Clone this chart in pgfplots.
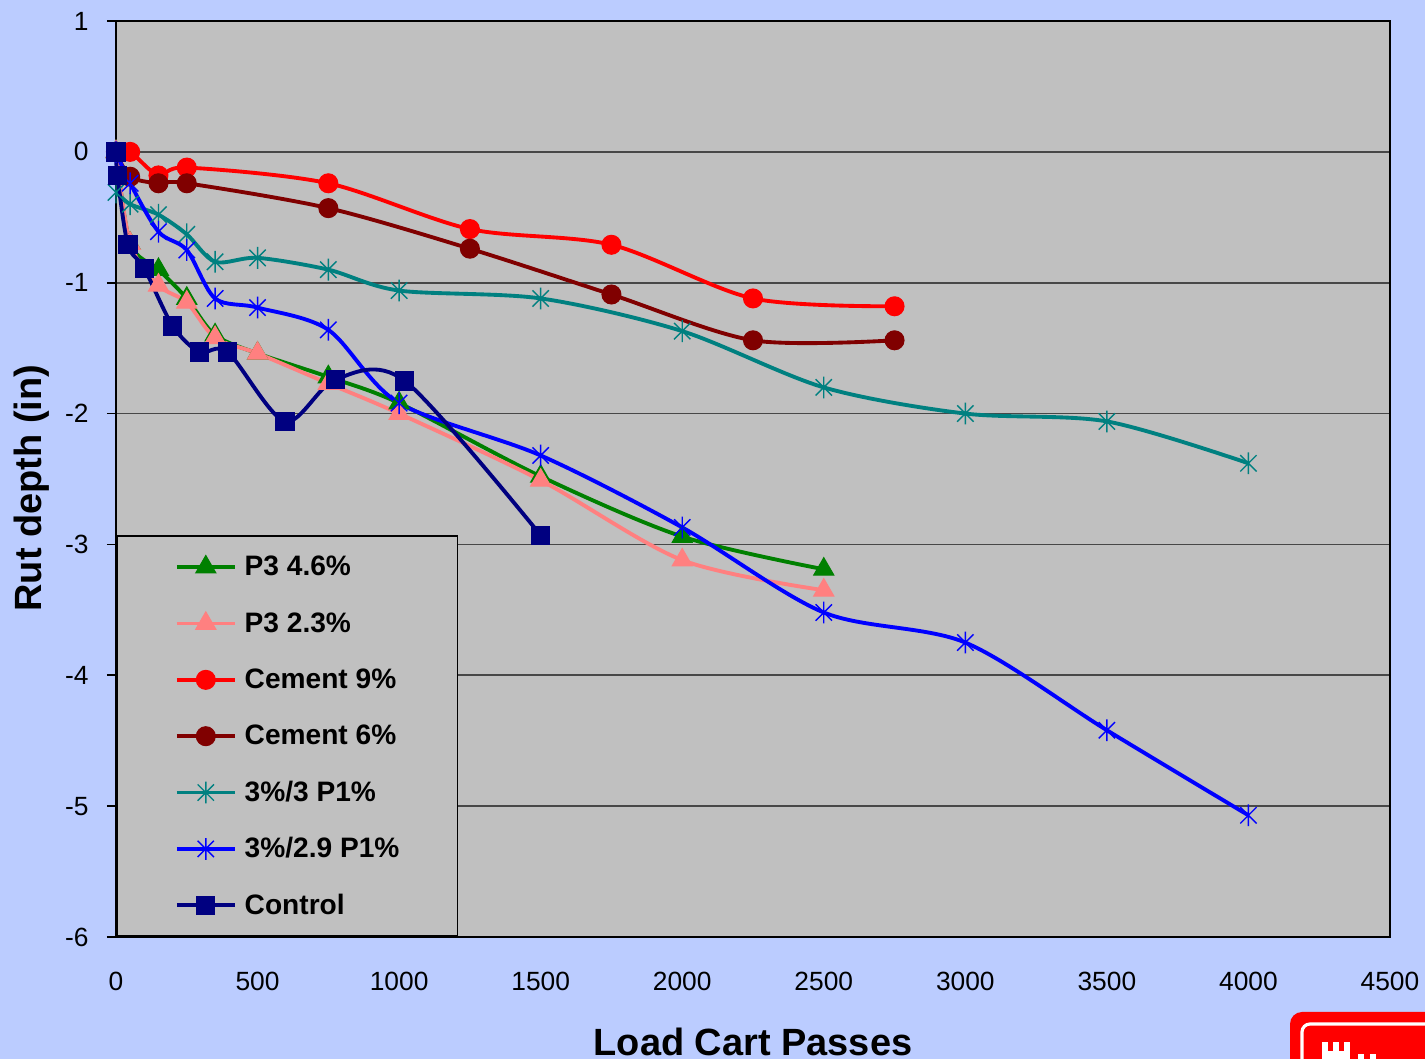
\documentclass[border=0pt]{standalone}
\usepackage{fontspec}
\setmainfont{Liberation Sans}
\usepackage{pgfplots}
\pgfplotsset{compat=1.18}
\definecolor{bgblue}{RGB}{187,204,255}
\definecolor{plotgray}{RGB}{192,192,192}
\definecolor{cgreen}{RGB}{0,128,0}
\definecolor{cpink}{RGB}{255,128,128}
\definecolor{cred}{RGB}{255,0,0}
\definecolor{cdred}{RGB}{128,0,0}
\definecolor{cteal}{RGB}{0,128,128}
\definecolor{cblue}{RGB}{0,0,255}
\definecolor{cnavy}{RGB}{0,0,128}
\pgfdeclareplotmark{xstar}{%
  \pgfpathmoveto{\pgfqpoint{0pt}{\pgfplotmarksize}}%
  \pgfpathlineto{\pgfqpoint{0pt}{-\pgfplotmarksize}}%
  \pgfpathmoveto{\pgfqpoint{-0.75\pgfplotmarksize}{0.75\pgfplotmarksize}}%
  \pgfpathlineto{\pgfqpoint{0.75\pgfplotmarksize}{-0.75\pgfplotmarksize}}%
  \pgfpathmoveto{\pgfqpoint{-0.75\pgfplotmarksize}{-0.75\pgfplotmarksize}}%
  \pgfpathlineto{\pgfqpoint{0.75\pgfplotmarksize}{0.75\pgfplotmarksize}}%
  \pgfusepathqstroke}
\begin{document}
\begin{tikzpicture}
\useasboundingbox (0,0) rectangle (14.25,10.59);
\fill[bgblue] (0,0) rectangle (14.25,10.59);
% logo fragment
\fill[cred, rounded corners=0.12cm] (12.9,0.47) rectangle (15.2,-0.6);
\draw[white, line width=0.9pt, rounded corners=0.08cm] (13.02,0.35) rectangle (15.2,-0.6);
\fill[white] (13.22,0.0) rectangle (13.28,0.17);
\fill[white] (13.33,0.0) rectangle (13.39,0.17);
\fill[white] (13.44,0.0) rectangle (13.50,0.17);
\fill[white] (13.22,0.0) rectangle (13.50,0.08);
\fill[white] (13.58,0.0) rectangle (13.64,0.05);
\fill[white] (13.70,0.0) rectangle (13.76,0.05);
\begin{axis}[
  at={(1.16cm,1.22cm)}, anchor=south west,
  scale only axis, width=12.74cm, height=9.16cm,
  xmin=0, xmax=4500, ymin=-6, ymax=1,
  xtick={0,500,...,4500}, ytick={-6,-5,...,1},
  ytick pos=left,
  scaled x ticks=false,
  /pgf/number format/1000 sep={},
  /pgf/number format/assume math mode=true,
  ticklabel style={font=\fontsize{7.5}{9}\selectfont},
  tick align=outside,
  major tick length=0.09cm,
  xtick style={draw=none},
  ytick style={black, line width=0.5pt},
  yticklabel style={xshift=-0.06cm},
  xticklabel style={yshift=-0.14cm},
  axis background/.style={fill=plotgray},
  axis line style={black, line width=0.6pt},
  ymajorgrids,
  grid style={black!72, line width=0.5pt},
  clip=false,
  xlabel={Load Cart Passes},
  ylabel={Rut depth (in)},
  label style={font=\bfseries\fontsize{10.8}{13}\selectfont},
  xlabel style={at={(axis description cs:0.5,-0.1146)}, anchor=center},
  ylabel style={at={(axis description cs:-0.066,0.49)}, anchor=center},
  legend style={at={(rel axis cs:0,0)}, anchor=south west,
    fill=plotgray, draw=black, line width=0.5pt,
    font=\bfseries\fontsize{8}{9.6}\selectfont,
    inner xsep=0.58cm, inner ysep=0.115cm, row sep=0.177cm,
    nodes={inner xsep=0pt, inner ysep=2pt, text height=6pt, text depth=1pt},
    /tikz/every odd column/.append style={column sep=0.08cm}},
  legend cell align=left,
  legend image code/.code={\draw[mark repeat=2,mark phase=2] plot coordinates {(0cm,0cm)(0.29cm,0cm)(0.58cm,0cm)};},
  every axis plot/.append style={line width=1.1pt, smooth, tension=0.5},
]
\addplot[cgreen, mark=triangle*, mark size=3.3pt, mark options={line width=0.3pt, fill=cgreen}] coordinates {
(0,0) (50,-0.7) (150,-0.90) (250,-1.12) (350,-1.40) (500,-1.54) (750,-1.72) (1000,-1.92) (1500,-2.48) (2000,-2.94) (2500,-3.19)};
\addlegendentry{P3 4.6\%}
\addplot[cpink, mark=triangle*, mark size=3.3pt, mark options={line width=0.3pt, fill=cpink}] coordinates {
(0,0) (50,-0.7) (150,-1.02) (250,-1.15) (350,-1.42) (500,-1.54) (750,-1.77) (1000,-2.00) (1500,-2.51) (2000,-3.12) (2500,-3.35)};
\addlegendentry{P3 2.3\%}
\addplot[cred, mark=*, mark size=2.7pt, mark options={line width=0.3pt, fill=cred}] coordinates {
(0,0) (50,0) (150,-0.18) (250,-0.12) (750,-0.24) (1250,-0.59) (1750,-0.71) (2250,-1.12) (2750,-1.18)};
\addlegendentry{Cement 9\%}
\addplot[cdred, mark=*, mark size=2.7pt, mark options={line width=0.3pt, fill=cdred}] coordinates {
(0,0) (50,-0.19) (150,-0.24) (250,-0.24) (750,-0.43) (1250,-0.74) (1750,-1.09) (2250,-1.44) (2750,-1.44)};
\addlegendentry{Cement 6\%}
\addplot[cteal, mark=xstar, mark size=3.1pt, mark options={line width=0.4pt}] coordinates {
(0,-0.31) (50,-0.40) (150,-0.48) (250,-0.63) (350,-0.84) (500,-0.81) (750,-0.90) (1000,-1.06) (1500,-1.12) (2000,-1.37) (2500,-1.80) (3000,-2.00) (3500,-2.06) (4000,-2.38)};
\addlegendentry{3\%/3 P1\%}
\addplot[cblue, mark=xstar, mark size=3.1pt, mark options={line width=0.4pt}] coordinates {
(0,0) (50,-0.24) (150,-0.61) (250,-0.75) (350,-1.12) (500,-1.19) (750,-1.36) (1000,-1.92) (1500,-2.32) (2000,-2.87) (2500,-3.52) (3000,-3.75) (3500,-4.42) (4000,-5.07)};
\addlegendentry{3\%/2.9 P1\%}
\addplot[cnavy, mark=square*, mark size=2.6pt, mark options={line width=0.3pt, fill=cnavy}] coordinates {
(0,0) (5,-0.18) (42,-0.71) (100,-0.89) (200,-1.33) (295,-1.53) (395,-1.53) (597,-2.06) (775,-1.74) (1020,-1.75) (1500,-2.93)};
\addlegendentry{Control}
\end{axis}
\end{tikzpicture}
\end{document}
